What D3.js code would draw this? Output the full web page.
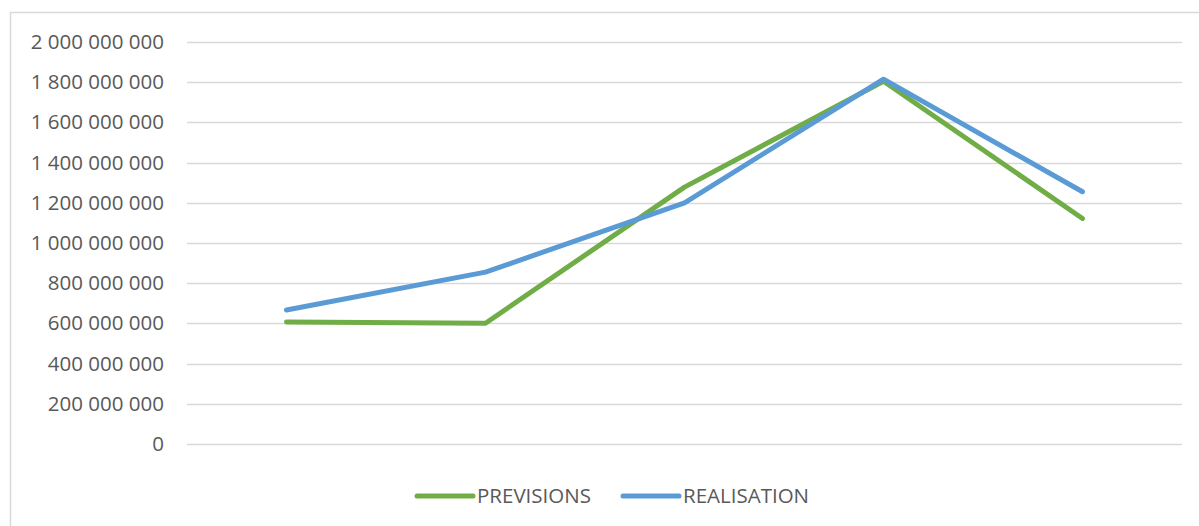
<!DOCTYPE html>
<html><head><meta charset="utf-8">
<script src="https://cdn.jsdelivr.net/npm/d3@7"></script>
<style>html,body{margin:0;padding:0;background:#fff;}svg{display:block;}</style>
</head><body>
<svg id="c" width="1199" height="526"></svg>
<script>
const categories = ["1", "2", "3", "4", "5"];
const previsions = [607000000, 601000000, 1278000000, 1805000000, 1122000000];
const realisation = [667000000, 855000000, 1200000000, 1815000000, 1255000000];
const seriesNames = ["PREVISIONS", "REALISATION"];
const yTicks = [0, 200000000, 400000000, 600000000, 800000000, 1000000000, 1200000000, 1400000000, 1600000000, 1800000000, 2000000000];

const colors = ["#70AD47", "#5B9BD5"];
const svg = d3.select("#c");
const font = "'Open Sans', 'Liberation Sans', sans-serif";

// frame
svg.append("path").attr("d", "M10.5,526 L10.5,12.5 L1199,12.5")
  .attr("fill", "none").attr("stroke", "#d9d9d9").attr("stroke-width", 1.5);

const x0 = 187, x1 = 1182, yTop = 42, yBot = 444;
const x = d3.scalePoint().domain(categories).range([x0, x1]).padding(0.5);
const y = d3.scaleLinear().domain([0, 2000000000]).range([yBot, yTop]);

const fmt = v => d3.format(",")(v).replace(/,/g, " ");

// gridlines
svg.append("g").selectAll("line").data(yTicks).join("line")
  .attr("x1", x0).attr("x2", x1)
  .attr("y1", d => Math.round(y(d)) + 0.5).attr("y2", d => Math.round(y(d)) + 0.5)
  .attr("stroke", "#d9d9d9").attr("stroke-width", 1.3);

// y axis labels
const yAxis = d3.axisLeft(y).tickValues(yTicks).tickFormat(fmt).tickSize(0).tickPadding(0);
const gy = svg.append("g").attr("transform", `translate(164,0)`).call(yAxis);
gy.select(".domain").remove();
gy.selectAll("text").attr("font-family", font).attr("font-size", 20.5).attr("fill", "#595959");

// lines
const data = [previsions, realisation];
const line = d3.line().x((d, i) => x(categories[i])).y(d => y(d));
data.forEach((s, k) => {
  svg.append("path").datum(s).attr("d", line)
    .attr("fill", "none").attr("stroke", colors[k]).attr("stroke-width", 5)
    .attr("stroke-linecap", "round").attr("stroke-linejoin", "round");
});

// legend
const legX = [417, 623];
seriesNames.forEach((n, k) => {
  svg.append("line").attr("x1", legX[k]).attr("x2", legX[k] + 56).attr("y1", 496).attr("y2", 496)
    .attr("stroke", colors[k]).attr("stroke-width", 5).attr("stroke-linecap", "round");
  svg.append("text").attr("x", legX[k] + 60).attr("y", 496).attr("dy", "0.35em")
    .attr("font-family", font).attr("font-size", 20.5).attr("fill", "#595959").text(n);
});
</script>
</body></html>
